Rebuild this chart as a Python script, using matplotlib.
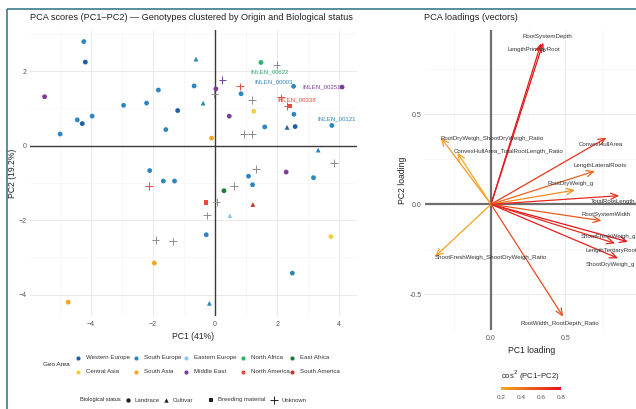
import numpy as np
import matplotlib.pyplot as plt
from matplotlib.colors import LinearSegmentedColormap, Normalize

plt.rcParams['font.family'] = ['Liberation Sans', 'DejaVu Sans']

# ---- PCA scores (left panel)
pc1 = [-4.22, -4.17, -5.48, -4.98, -4.43, -4.27, -3.95, -2.94, -2.20, -1.82,
       -1.58, -1.20, -0.67, 1.48, 0.03, 0.84, 0.46, 1.25, -0.11, 1.60,
       2.58, 2.54, 2.53, 4.09, 3.76, 2.29, 3.17, 1.08, 1.21, 0.29,
       -2.10, -1.66, -1.30, -0.28, 3.73, 2.49, -1.95, -4.72,
       -0.61, -0.38, 2.32, 3.32, 1.22, 0.48, -0.18,
       -0.29, 2.41,
       1.98, -0.02, 0.24, 0.81, 1.20, 0.93, 1.20, 2.12, 2.33, 3.83,
       1.32, 0.62, 0.05, -0.25, -1.91, -1.35, -2.13]
pc2 = [2.79, 2.24, 1.31, 0.31, 0.69, 0.59, 0.79, 1.08, 1.14, 1.49,
       0.43, 0.94, 1.60, 2.23, 1.52, 1.39, 0.79, 0.92, 0.20, 0.50,
       0.51, 0.84, 1.59, 1.57, 0.54, -0.71, -0.86, -0.82, -1.05, -1.21,
       -0.67, -0.95, -0.95, -2.39, -2.44, -3.42, -3.15, -4.20,
       2.32, 1.14, 0.49, -0.12, -1.58, -1.88, -4.23,
       -1.53, 1.06,
       2.16, 1.38, 1.76, 1.59, 1.22, 0.31, 0.31, 1.29, 1.06, -0.47,
       -0.63, -1.08, -1.51, -1.87, -2.53, -2.57, -1.08]
geo = ['South Europe', 'Western Europe', 'Middle East', 'South Europe', 'South Europe',
       'Western Europe', 'South Europe', 'South Europe', 'South Europe', 'South Europe',
       'South Europe', 'Western Europe', 'South Europe', 'North Africa', 'Middle East',
       'South Europe', 'Middle East', 'Central Asia', 'South Asia', 'South Europe',
       'Western Europe', 'South Europe', 'South Europe', 'Middle East', 'South Europe',
       'Middle East', 'South Europe', 'South Europe', 'South Europe', 'East Africa',
       'South Europe', 'South Europe', 'South Europe', 'South Europe', 'Central Asia',
       'South Europe', 'South Asia', 'South Asia',
       'South Europe', 'South Europe', 'Western Europe', 'South Europe', 'South America',
       'Eastern Europe', 'South Europe',
       'North America', 'North America',
       None, None, 'Middle East', 'North America', None, None, None, 'North America',
       'North America', None, None, None, None, None, None, None, 'North America']
status = ['Landrace'] * 38 + ['Cultivar'] * 7 + ['Breeding material'] * 2 + ['Unknown'] * 17

geo_levels = ['Western Europe', 'South Europe', 'Eastern Europe', 'North Africa', 'East Africa',
              'Central Asia', 'South Asia', 'Middle East', 'North America', 'South America']
geo_colors = ['#1F5FA6', '#2E86C1', '#8EC9EA', '#2EAF6E', '#1D7A3A',
              '#F2D03B', '#F5A623', '#7D3C98', '#E74C3C', '#C0392B']
status_levels = ['Landrace', 'Cultivar', 'Breeding material', 'Unknown']
status_markers = ['o', '^', 's', '+']

lab_ids = ['INLEN_00622', 'INLEN_00003', 'INLEN_00251', 'INLEN_00338', 'INLEN_00121']
lab_geo = ['North Africa', 'South Europe', 'Middle East', 'North America', 'South Europe']
lab_x = [1.75, 1.90, 3.43, 2.63, 3.92]
lab_y = [1.98, 1.71, 1.58, 1.23, 0.71]

# ---- PCA loadings (right panel)
var_names = ['RootSystemDepth', 'LengthPrimaryRoot', 'RootDryWeigh_ShootDryWeigh_Ratio',
             'ConvexHullArea_TotalRootLength_Ratio', 'ConvexHullArea', 'LengthLateralRoots',
             'RootDryWeigh_g', 'TotalRootLength', 'RootSystemWidth', 'ShootFreshWeigh_g',
             'LengthTertiaryRoot', 'ShootDryWeigh_g', 'ShootFreshWeigh_ShootDryWeigh_Ratio',
             'RootWidth_RootDepth_Ratio']
load1 = [0.351, 0.336, -0.336, -0.226, 0.776, 0.698, 0.564, 0.861, 0.743, 0.920,
         0.834, 0.854, -0.376, 0.485]
load2 = [0.898, 0.894, 0.370, 0.287, 0.370, 0.185, 0.079, 0.048, -0.091, -0.208,
         -0.217, -0.300, -0.291, -0.624]
cos2 = [0.85, 0.82, 0.25, 0.20, 0.70, 0.50, 0.32, 0.75, 0.55, 0.85, 0.74, 0.80, 0.23, 0.60]
var_lab_x = [0.378, 0.289, 0.009, 0.116, 0.738, 0.732, 0.535, 0.820, 0.772, 0.787,
             0.805, 0.799, 0.000, 0.463]
var_lab_y = [0.930, 0.861, 0.367, 0.292, 0.330, 0.218, 0.117, 0.018, -0.056, -0.180,
             -0.258, -0.337, -0.297, -0.661]

na_color = '#8C8C8C'
cmap = LinearSegmentedColormap.from_list('orred', ['#F5A623', '#E3141C'])
norm = Normalize(0.2, 0.85)

W, H = 636, 409
fig = plt.figure(figsize=(W / 100, H / 100), dpi=100)


def px(x0, y0, x1, y1):
    return [x0 / W, 1 - y1 / H, (x1 - x0) / W, (y1 - y0) / H]


def style_axes(ax):
    for s in ax.spines.values():
        s.set_visible(False)
    ax.tick_params(length=0, labelsize=5, labelcolor='#555555', pad=2.5)
    ax.tick_params(axis='x', pad=3.5)
    ax.grid(True, which='major', color='#E6E6E6', lw=0.6)
    ax.grid(True, which='minor', color='#F2F2F2', lw=0.4)
    ax.set_axisbelow(True)


# left panel
ax = fig.add_axes(px(30, 30, 356.7, 316))
style_axes(ax)
ax.set_xlim(-5.95, 4.56)
ax.set_ylim(-4.57, 3.10)
ax.set_xticks([-4, -2, 0, 2, 4])
ax.set_xticks([-5, -3, -1, 1, 3], minor=True)
ax.set_yticks([-4, -2, 0, 2])
ax.set_yticks([-3, -1, 1, 3], minor=True)
ax.tick_params(which='minor', length=0)
ax.axhline(0, color='#3A3A3A', lw=1.0, zorder=1)
ax.axvline(0, color='#3A3A3A', lw=1.0, zorder=1)

x = np.array(pc1)
y = np.array(pc2)
cols = np.array([geo_colors[geo_levels.index(g)] if g else na_color for g in geo])
st = np.array(status)
for lev, mk in zip(status_levels, status_markers):
    m = st == lev
    if mk == '+':
        ax.scatter(x[m], y[m], c=cols[m], marker='+', s=30, linewidths=0.7, zorder=3)
    else:
        ax.scatter(x[m], y[m], c=cols[m], marker=mk, s=12, linewidths=0, zorder=3)

for t, g, lx, ly in zip(lab_ids, lab_geo, lab_x, lab_y):
    ax.text(lx, ly, t, color=geo_colors[geo_levels.index(g)], fontsize=4.4,
            ha='center', va='center', zorder=4)

ax.set_xlabel('PC1 (41%)', fontsize=6.2, color='#222222', labelpad=3)
ax.set_ylabel('PC2 (19.2%)', fontsize=6.2, color='#222222', labelpad=1)
fig.text(30 / W, 1 - 17 / H,
         'PCA scores (PC1\u2013PC2) \u2014 Genotypes clustered by Origin and Biological status',
         fontsize=6.6, color='#222222', ha='left', va='center')

# right panel
ax2 = fig.add_axes(px(425, 30, 638.4, 330))
style_axes(ax2)
ax2.set_xlim(-0.443, 0.99)
ax2.set_ylim(-0.698, 0.968)
ax2.set_xticks([0.0, 0.5])
ax2.set_xticklabels(['0.0', '0.5'])
ax2.set_xticks([-0.25, 0.25, 0.75], minor=True)
ax2.set_yticks([-0.5, 0.0, 0.5])
ax2.set_yticklabels(['-0.5', '0.0', '0.5'])
ax2.set_yticks([-0.25, 0.25, 0.75], minor=True)
ax2.tick_params(which='minor', length=0)
ax2.axhline(0, color='#6E6E6E', lw=1.6, zorder=1)
ax2.axvline(0, color='#6E6E6E', lw=1.6, zorder=1)

for n, a, b, c, tx, ty in zip(var_names, load1, load2, cos2, var_lab_x, var_lab_y):
    ax2.annotate('', xy=(a, b), xytext=(0, 0),
                 arrowprops=dict(arrowstyle='->,head_length=0.5,head_width=0.22',
                                 color=cmap(norm(c)), lw=0.9, mutation_scale=10,
                                 shrinkA=0, shrinkB=0), zorder=3)
    ax2.text(tx, ty, n, fontsize=4.4, color='#333333', ha='center', va='center',
             zorder=4, clip_on=False)

ax2.set_xlabel('PC1 loading', fontsize=6.2, color='#222222', labelpad=3)
ax2.set_ylabel('PC2 loading', fontsize=6.2, color='#222222', labelpad=1.5)
fig.text(424 / W, 1 - 17 / H, 'PCA loadings (vectors)', fontsize=6.6,
         color='#222222', ha='left', va='center')

# colour bar for cos2
cax = fig.add_axes(px(501, 386.5, 561, 390))
grad = np.linspace(0.2, 0.8, 256).reshape(1, -1)
cax.imshow(grad, aspect='auto', cmap=cmap, norm=Normalize(0.2, 0.8),
           extent=[0.2, 0.8, 0, 1])
cax.set_axis_off()
fig.text(530 / W, 1 - 376 / H, 'cos$^2$ (PC1\u2013PC2)',
         fontsize=5.6, ha='center', va='center', color='#222222')
for v in [0.2, 0.4, 0.6, 0.8]:
    fig.text((501 + (v - 0.2) / 0.6 * 60) / W, 1 - 397.5 / H, f'{v:.1f}',
             fontsize=4.6, ha='center', va='center', color='#555555')

# legends and frame on an overlay in pixel units
ov = fig.add_axes([0, 0, 1, 1])
ov.set_xlim(0, W)
ov.set_ylim(H, 0)
ov.set_axis_off()
ov.plot([7, W], [8.5, 8.5], color='#3D7A8C', lw=1.2, solid_capstyle='butt')
ov.plot([7, 7], [8.5, H], color='#3D7A8C', lw=1.2, solid_capstyle='butt')

ov.text(43, 365, 'Geo Area', fontsize=4.6, va='center', ha='left', color='#222222')
col_x = [77.7, 135.7, 185.7, 242.7, 292.3]
row_y = [357.7, 371.7]
for i, (g, c) in enumerate(zip(geo_levels, geo_colors)):
    cx = col_x[i % 5]
    cy = row_y[i // 5]
    ov.scatter([cx], [cy], color=c, s=9, marker='o', linewidths=0)
    ov.text(cx + 8, cy, g, fontsize=4.4, va='center', ha='left', color='#333333')

ov.text(120.5, 400, 'Biological status', fontsize=4.1, va='center', ha='right', color='#222222')
st_x = [127.7, 165.7, 211, 274]
for lev, mk, sx in zip(status_levels, status_markers, st_x):
    if mk == '+':
        ov.scatter([sx], [400], color='#222222', marker='+', s=30, linewidths=0.7)
    else:
        ov.scatter([sx], [400], color='#222222', marker=mk, s=10, linewidths=0)
    ov.text(sx + 7, 400, lev, fontsize=4.3, va='center', ha='left', color='#333333')

fig.savefig('out.png', dpi=100)
